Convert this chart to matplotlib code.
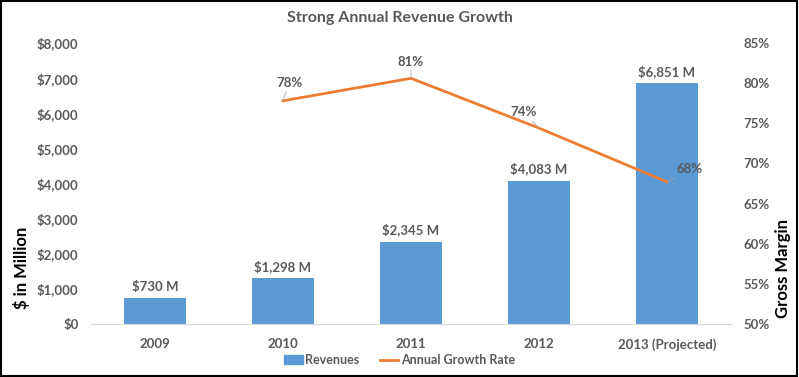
import matplotlib.pyplot as plt
from matplotlib.patches import Rectangle

years = ["2009", "2010", "2011", "2012", "2013 (Projected)"]
revenues = [730, 1298, 2345, 4083, 6851]
growth_years = ["2010", "2011", "2012", "2013 (Projected)"]
growth = [77.8, 80.6, 74.4, 67.7]
growth_labels = ["78%", "81%", "74%", "68%"]

plt.rcParams['font.family'] = ['Lato', 'DejaVu Sans']
plt.rcParams['font.weight'] = 'bold'
gray = "#595959"
blue = "#5B9BD5"
orange = "#ED7D31"

fig = plt.figure(figsize=(7.99, 3.77), dpi=100)
ax = fig.add_axes([91 / 799, 1 - 324 / 377, 640 / 799, 281 / 377])
ax2 = ax.twinx()

x = list(range(len(years)))
bars = ax.bar(x, revenues, width=0.49, color=blue, zorder=2)
for xi, v in zip(x, revenues):
    ax.text(xi, v + 150, f"${v:,} M", ha="center", va="bottom",
            fontsize=9.5, fontweight="bold", color=gray)

ax.set_xlim(-0.5, len(years) - 0.5)
ax.set_ylim(0, 8000)
ax.set_yticks(range(0, 8001, 1000))
ax.set_yticklabels([f"${t:,}" for t in range(0, 8001, 1000)])
ax.set_xticks(x)
ax.set_xticklabels(years)

gx = [years.index(y) for y in growth_years]
ax2.plot(gx, growth, color=orange, lw=2, zorder=3)
ax2.set_ylim(50, 85)
ax2.set_yticks(range(50, 86, 5))
ax2.set_yticklabels([f"{t}%" for t in range(50, 86, 5)])

# label offsets (in data units) for growth-rate labels
offsets = [(0.05, 1.5), (0.0, 1.3), (-0.12, 1.2), (0.18, 0.8)]
for xi, v, lab, (dx, dy) in zip(gx, growth, growth_labels, offsets):
    ax2.annotate(lab, xy=(xi, v), xytext=(xi + dx, v + dy), ha="center", va="bottom",
                 fontsize=9.5, fontweight="bold", color=gray,
                 arrowprops=dict(arrowstyle="-", color="#A6A6A6", lw=0.6,
                                 shrinkA=0, shrinkB=0))

for a in (ax, ax2):
    for s in a.spines.values():
        s.set_visible(False)
    a.tick_params(length=0, labelsize=9.5, labelcolor=gray, pad=9)
ax.spines["bottom"].set_visible(True)
ax.spines["bottom"].set_color("#D9D9D9")
ax.tick_params(axis="x", pad=10)
for a in (ax, ax2):
    for t in a.get_yticklabels() + a.get_xticklabels():
        t.set_fontweight("bold")

fig.text(0.5, 1 - 18 / 377, "Strong Annual Revenue Growth", ha="center", va="center",
         fontsize=11.5, fontweight="bold", color=gray)
fig.text(22 / 799, 1 - 268 / 377, "$ in Million", rotation=90, ha="center", va="center",
         fontsize=12, fontweight="bold", color="black")
fig.text(783 / 799, 1 - 268 / 377, "Gross Margin", rotation=90, ha="center", va="center",
         fontsize=12, fontweight="bold", color="black")

handles = [Rectangle((0, 0), 1, 1, color=blue),
           plt.Line2D([0], [0], color=orange, lw=2)]
fig.legend(handles, ["Revenues", "Annual Growth Rate"], loc="center",
           bbox_to_anchor=(0.5, 1 - 360 / 377), ncol=2, frameon=False,
           prop={"size": 9, "weight": "bold"}, labelcolor=gray,
           handlelength=1.5, columnspacing=1.6, handletextpad=0.2)

fig.patches.append(Rectangle((0.001, 0.002), 0.997, 0.996, transform=fig.transFigure,
                             fill=False, edgecolor="black", lw=1.5))

fig.savefig("out.png", dpi=100)
